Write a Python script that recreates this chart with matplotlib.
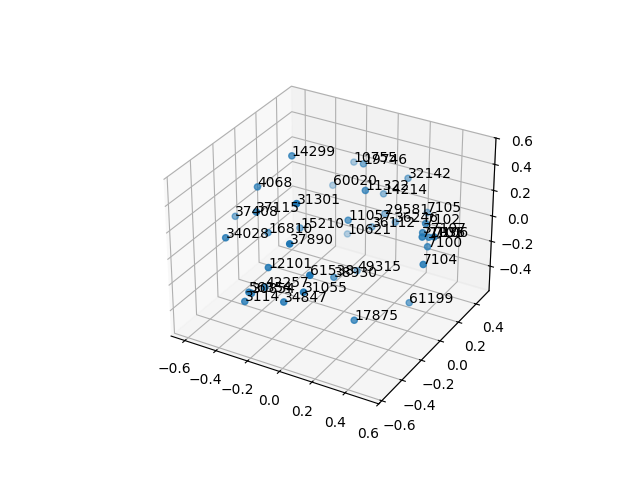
import numpy as np
import matplotlib
matplotlib.use("Agg")
import matplotlib.pyplot as plt

# Values
labels = ["14299", "10755", "19746", "32142", "60020", "11322", "14214", "4068",
          "31301", "37408", "37115", "29581", "7105", "11057", "36246", "7102",
          "36112", "15210", "16810", "10621", "34028", "37107", "71036", "7101",
          "7106", "37890", "7100", "7104", "12101", "61538", "38930", "49315",
          "42257", "56354", "30854", "31055", "3114", "34847", "61199", "17875"]
xs = [-0.281, -0.25, -0.045, 0.148, -0.357, 0.105, 0.019, -0.40,
      0.019, -0.582, -0.26, 0.052, 0.256, 0.031, 0.148, 0.461,
      0.041, -0.26, -0.325, -0.217, -0.40, 0.461, 0.525, 0.492,
      0.578, 0.041, 0.471, 0.568, -0.131, 0.172, 0.041, -0.002,
      -0.121, -0.201, -0.185, 0.127, -0.228, -0.014, 0.396, 0.262]
ys = [-0.069, 0.501, 0.265, 0.412, 0.452, 0.039, 0.373, -0.217,
      -0.482, -0.168, -0.433, 0.334, 0.442, -0.011, 0.284, 0.058,
      0.216, -0.03, -0.237, 0.383, -0.512, 0.029, -0.089, 0.039,
      -0.06, -0.581, 0.068, -0.148, -0.522, -0.60, -0.168, 0.137,
      -0.571, -0.60, -0.60, -0.59, -0.60, -0.56, 0.019, -0.32]
zs = [0.56, 0.17, 0.37, 0.23, -0.02, 0.36, 0.09, 0.38,
      0.57, 0.06, 0.38, -0.03, -0.02, 0.14, -0.03, 0.22,
      -0.06, -0.01, 0.07, -0.32, 0.19, 0.17, 0.24, 0.14,
      0.24, 0.35, 0.04, 0.09, 0.07, 0.18, -0.19, -0.37,
      -0.04, -0.088, -0.09, 0.03, -0.169, -0.12, -0.39, -0.33]

fig = plt.figure()
ax = fig.add_subplot(projection="3d")
ax.scatter(xs, ys, zs)
for x, y, z, name in zip(xs, ys, zs, labels):
    ax.text(x, y, z, name)
ax.set_xlim(-0.69, 0.60)
ax.set_ylim(-0.63, 0.55)
ax.set_zlim(-0.6, 0.6)
ax.set_xticks(np.arange(-0.6, 0.7, 0.2))
ax.set_yticks(np.arange(-0.6, 0.5, 0.2))
ax.set_zticks(np.arange(-0.4, 0.7, 0.2))
plt.savefig("out.png")
